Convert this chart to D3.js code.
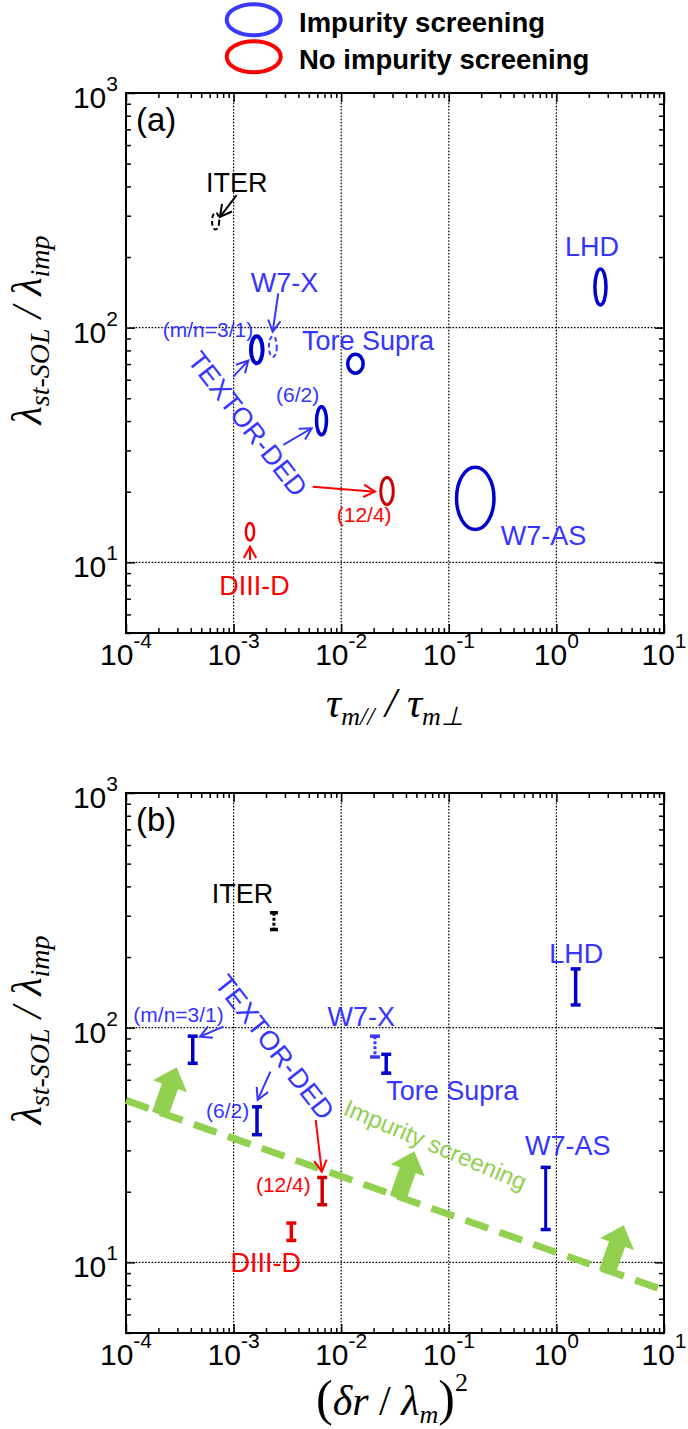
<!DOCTYPE html>
<html>
<head>
<meta charset="utf-8">
<script src="https://cdn.jsdelivr.net/npm/d3@7"></script>
<style>
  body { margin: 0; background: #fff; }
  svg { display: block; }
</style>
</head>
<body>
<svg id="fig" width="688" height="1429"></svg>
<script>
// ---- data ---------------------------------------------------------------
const devices = ["ITER", "W7-X", "TEXTOR-DED 3/1", "Tore Supra", "TEXTOR-DED 6/2",
                 "TEXTOR-DED 12/4", "DIII-D", "W7-AS", "LHD"];
// λ_st-SOL / λ_imp range, same quantity on both vertical axes
const ratioLow  = [262, 75, 70.5, 64, 35, 17.6, 12.4, 13.8, 125];
const ratioHigh = [309, 92, 92,   77, 46, 23,   14.7, 25.4, 178];
// τ_m// / τ_m⊥ range, panel (a)
const tauLow  = [6.3e-4, 2.13e-3, 1.45e-3, 0.0115, 5.9e-3, 0.0233, 1.30e-3, 0.118, 2.28];
const tauHigh = [7.35e-4, 2.52e-3, 1.86e-3, 0.0160, 7.3e-3, 0.0305, 1.55e-3, 0.263, 2.89];
// (δr / λm)^2, panel (b)
const islandRatio = [2.37e-3, 0.0206, 4.17e-4, 0.0262, 1.65e-3, 6.66e-3, 3.44e-3, 0.795, 1.51];
// screening class of each case
const screening = ["predicted", "predicted", "yes", "yes", "yes", "no", "no", "yes", "yes"];
// screening boundary in panel (b)
const boundaryX = [1e-4, 10];
const boundaryY = [49, 7.6];
const boundaryArrowX = [2.1e-4, 3.4e-2, 3.0];
// axes
const xDecades = [1e-4, 1e-3, 1e-2, 1e-1, 1, 10];
const xTickExp = ["-4", "-3", "-2", "-1", "0", "1"];
const yDecades = [10, 100, 1000];
const yTickExp = ["1", "2", "3"];
const legendLabels = ["Impurity screening", "No impurity screening"];

// ---- styles -------------------------------------------------------------
const SANS = "'Liberation Sans', Arial, Helvetica, sans-serif";
const SERIF = "'Liberation Serif', 'Times New Roman', serif";
const BLUE_TXT = "#3535ff", RED_TXT = "#ff0000";
const markStyle = {
  "ITER":            { stroke: "#000000", w: 2,   dash: "4.5,3", bw: 3 },
  "W7-X":            { stroke: "#3a3aff", w: 2,   dash: "4.5,3", bw: 3 },
  "TEXTOR-DED 3/1":  { stroke: "#0000cc", w: 4,   dash: null,    bw: 3.5 },
  "Tore Supra":      { stroke: "#0000cc", w: 3.5, dash: null,    bw: 3.5 },
  "TEXTOR-DED 6/2":  { stroke: "#0000cc", w: 3.5, dash: null,    bw: 3.5 },
  "TEXTOR-DED 12/4": { stroke: "#cc0000", w: 3,   dash: null,    bw: 3.5 },
  "DIII-D":          { stroke: "#ee0000", w: 2.5, dash: null,    bw: 3.5 },
  "W7-AS":           { stroke: "#0000cc", w: 3.5, dash: null,    bw: 3 },
  "LHD":             { stroke: "#0000cc", w: 3.5, dash: null,    bw: 3.5 }
};

const svg = d3.select("#fig");

// ---- helpers ------------------------------------------------------------
function addText(g, x, y, str, o = {}) {
  const t = g.append("text")
    .attr("x", x).attr("y", y)
    .attr("font-family", o.family || SANS)
    .attr("font-size", o.size || 27)
    .attr("fill", o.fill || "#000")
    .attr("text-anchor", o.anchor || "start");
  if (o.weight) t.attr("font-weight", o.weight);
  if (o.dy) t.attr("dy", o.dy);
  if (o.rotate) t.attr("transform", `rotate(${o.rotate},${x},${y})`);
  t.text(str);
  return t;
}

function addArrow(g, x1, y1, x2, y2, color) {
  g.append("line")
    .attr("x1", x1).attr("y1", y1).attr("x2", x2).attr("y2", y2)
    .attr("stroke", color).attr("stroke-width", 2);
  const a = Math.atan2(y2 - y1, x2 - x1), L = 13, s = 0.5;
  const p = d3.path();
  p.moveTo(x2 - L * Math.cos(a - s), y2 - L * Math.sin(a - s));
  p.lineTo(x2, y2);
  p.lineTo(x2 - L * Math.cos(a + s), y2 - L * Math.sin(a + s));
  g.append("path").attr("d", p.toString())
    .attr("fill", "none").attr("stroke", color).attr("stroke-width", 2)
    .attr("stroke-linejoin", "miter");
}

function powerLabel(g, x, y, exp, anchor) {
  const t = g.append("text")
    .attr("x", x).attr("y", y)
    .attr("font-family", SANS).attr("font-size", 30)
    .attr("text-anchor", anchor).attr("fill", "#000");
  t.append("tspan").text("10");
  t.append("tspan").attr("font-size", 21).attr("dy", -17).text(exp);
}

function minors(starts, ks) {
  const out = [];
  starts.forEach(d => ks.forEach(k => out.push(k * d)));
  return out;
}

// ---- one log-log panel --------------------------------------------------
function makePanel(top, tag) {
  const x = d3.scaleLog().domain([1e-4, 10]).range([126, 664]);
  const y = d3.scaleLog().domain([5, 1000]).range([top + 540, top]);
  const [x0, x1] = x.range();
  const [y1, y0] = y.range();
  const g = svg.append("g");

  // dotted decade grid
  g.selectAll(null).data(xDecades.slice(1, -1)).join("line")
    .attr("x1", d => x(d)).attr("x2", d => x(d)).attr("y1", y0).attr("y2", y1)
    .attr("stroke", "#000").attr("stroke-width", 1.2).attr("stroke-dasharray", "1.6,1.6");
  g.selectAll(null).data(yDecades.slice(0, -1)).join("line")
    .attr("y1", d => y(d)).attr("y2", d => y(d)).attr("x1", x0).attr("x2", x1)
    .attr("stroke", "#000").attr("stroke-width", 1.2).attr("stroke-dasharray", "1.6,1.6");

  // inward ticks on all four sides
  const xMinor = minors(xDecades.slice(0, -1), [2, 3, 4, 5, 6, 7, 8, 9]);
  const yMinor = [5, 6, 7, 8, 9].concat(minors([10, 100], [2, 3, 4, 5, 6, 7, 8, 9]));
  const sides = [
    [d3.axisBottom(x), `translate(0,${y1})`, xDecades, xMinor],
    [d3.axisTop(x), `translate(0,${y0})`, xDecades, xMinor],
    [d3.axisLeft(y), `translate(${x0},0)`, yDecades, yMinor],
    [d3.axisRight(y), `translate(${x1},0)`, yDecades, yMinor]
  ];
  sides.forEach(([ax, tr, major, minor]) => {
    [[major, -9], [minor, -5]].forEach(([vals, size]) => {
      const a = g.append("g").attr("transform", tr)
        .call(ax.tickValues(vals).tickSize(size).tickSizeOuter(0).tickFormat(() => ""));
      a.select(".domain").remove();
      a.selectAll(".tick line").attr("stroke", "#000").attr("stroke-width", 1.5);
    });
  });

  // frame
  g.append("rect").attr("x", x0).attr("y", y0).attr("width", x1 - x0).attr("height", y1 - y0)
    .attr("fill", "none").attr("stroke", "#000").attr("stroke-width", 2);

  // tick labels
  xDecades.forEach((d, i) => powerLabel(g, x(d), y1 + 32, xTickExp[i], "middle"));
  yDecades.forEach((d, i) => powerLabel(g, x0 - 8, y(d) + 15, yTickExp[i], "end"));

  // panel tag
  addText(g, 136, top + 38, tag, { size: 33 });

  // vertical axis title
  const yt = g.append("text")
    .attr("transform", `translate(41,${top + 237}) rotate(-90)`)
    .attr("text-anchor", "middle").attr("font-family", SERIF)
    .attr("font-style", "italic").attr("font-size", 42).attr("fill", "#000");
  yt.append("tspan").text("λ");
  yt.append("tspan").attr("font-size", 28).attr("dy", 8).text("st-SOL");
  yt.append("tspan").attr("dy", -8).text(" / λ");
  yt.append("tspan").attr("font-size", 28).attr("dy", 8).text("imp");

  return { g, x, y };
}

// ---- legend -------------------------------------------------------------
const leg = svg.append("g");
[["#3a3aff", 19.8], ["#ff0000", 56.7]].forEach(([c, cy], i) => {
  leg.append("ellipse").attr("cx", 253.7).attr("cy", cy).attr("rx", 27).attr("ry", 15.5)
    .attr("fill", "none").attr("stroke", c).attr("stroke-width", 4);
  addText(leg, 299, cy + 12.2, legendLabels[i], { size: 27.5, weight: "bold" });
});

// ---- panel (a) ----------------------------------------------------------
const A = makePanel(93, "(a)");
const centersA = devices.map((name, i) => {
  const st = markStyle[name];
  const cx = A.x(Math.sqrt(tauLow[i] * tauHigh[i]));
  const cy = A.y(Math.sqrt(ratioLow[i] * ratioHigh[i]));
  A.g.append("ellipse")
    .attr("cx", cx).attr("cy", cy)
    .attr("rx", (A.x(tauHigh[i]) - A.x(tauLow[i])) / 2)
    .attr("ry", (A.y(ratioLow[i]) - A.y(ratioHigh[i])) / 2)
    .attr("fill", "none").attr("stroke", st.stroke).attr("stroke-width", st.w)
    .attr("stroke-dasharray", st.dash);
  return [cx, cy];
});

// labels and arrows, offsets from each mark centre
const notesA = [
  { i: 0, text: "ITER",       dx: -9.6,  dy: -29,  fill: "#000",   arrow: [21, -26, 4.4, -4.3] },
  { i: 1, text: "W7-X",       dx: -22,   dy: -55,  fill: BLUE_TXT, arrow: [5.4, -53.3, -0.2, -14.9] },
  { i: 2, text: "(m/n=3/1)",  dx: -94,   dy: -13,  fill: BLUE_TXT, size: 21, arrow: [-23.5, 26.9, -8.5, 10.9] },
  { i: 3, text: "Tore Supra", dx: -53.5, dy: -14,  fill: BLUE_TXT },
  { i: 4, text: "(6/2)",      dx: -45.5, dy: -19,  fill: BLUE_TXT, size: 21, arrow: [-38.2, 24.2, -9.8, 7.5] },
  { i: 5, text: "(12/4)",     dx: -50.3, dy: 31,   fill: RED_TXT,  size: 21, arrow: [-74.3, -4.4, -12, 0.6] },
  { i: 6, text: "DIII-D",     dx: -30.7, dy: 63,   fill: RED_TXT,  arrow: [0, 28.2, 0, 14.9] },
  { i: 7, text: "W7-AS",      dx: 25.4,  dy: 46.5, fill: BLUE_TXT },
  { i: 8, text: "LHD",        dx: -35.5, dy: -31,  fill: BLUE_TXT }
];
notesA.forEach(n => {
  const [cx, cy] = centersA[n.i];
  addText(A.g, cx + n.dx, cy + n.dy, n.text, { fill: n.fill, size: n.size || 27 });
  if (n.arrow) {
    addArrow(A.g, cx + n.arrow[0], cy + n.arrow[1], cx + n.arrow[2], cy + n.arrow[3], n.fill);
  }
});
{
  const [cx, cy] = centersA[4];
  addText(A.g, cx - 73.5, cy + 3, "TEXTOR-DED",
    { fill: BLUE_TXT, size: 27, anchor: "middle", dy: "0.36em", rotate: 52 });
}

// x title (a)
{
  const t = A.g.append("text").attr("x", 395).attr("y", 717)
    .attr("text-anchor", "middle").attr("font-family", SERIF)
    .attr("font-style", "italic").attr("font-size", 42).attr("fill", "#000");
  t.append("tspan").text("τ");
  t.append("tspan").attr("font-size", 26).attr("dy", 8).text("m//");
  t.append("tspan").attr("dy", -8).text(" / τ");
  t.append("tspan").attr("font-size", 26).attr("dy", 8).text("m⊥");
}

// ---- panel (b) ----------------------------------------------------------
const B = makePanel(793, "(b)");

// screening boundary with arrows pointing to the screened side
{
  const bx0 = B.x(boundaryX[0]), by0 = B.y(boundaryY[0]);
  const bx1 = B.x(boundaryX[1]), by1 = B.y(boundaryY[1]);
  const green = "#92d050";
  B.g.append("line").attr("x1", bx0).attr("y1", by0).attr("x2", bx1).attr("y2", by1)
    .attr("stroke", green).attr("stroke-width", 7).attr("stroke-dasharray", "24,12");
  const ang = Math.atan2(by1 - by0, bx1 - bx0) * 180 / Math.PI;
  const slope = Math.log10(boundaryY[1] / boundaryY[0]) / Math.log10(boundaryX[1] / boundaryX[0]);
  const shape = [[-8.5, 2], [-8.5, -28], [-18, -28], [0, -48], [18, -28], [8.5, -28], [8.5, 2]];
  boundaryArrowX.forEach(v => {
    const yv = boundaryY[0] * Math.pow(v / boundaryX[0], slope);
    B.g.append("polygon")
      .attr("points", shape.map(p => p.join(",")).join(" "))
      .attr("transform", `translate(${B.x(v)},${B.y(yv)}) rotate(${ang})`)
      .attr("fill", green);
  });
  addText(B.g, 435.5, 1144.5, "Impurity screening",
    { fill: green, size: 24, anchor: "middle", dy: "0.36em", rotate: 23 });
}

const centersB = devices.map((name, i) => {
  const st = markStyle[name];
  const cx = B.x(islandRatio[i]);
  const yTop = B.y(ratioHigh[i]), yBot = B.y(ratioLow[i]);
  const cap = name === "ITER" ? 4 : 5;
  B.g.append("line").attr("x1", cx).attr("x2", cx).attr("y1", yTop).attr("y2", yBot)
    .attr("stroke", st.stroke).attr("stroke-width", st.bw)
    .attr("stroke-dasharray", st.dash ? "3,2" : null);
  [yTop, yBot].forEach(yy => B.g.append("line")
    .attr("x1", cx - cap).attr("x2", cx + cap).attr("y1", yy).attr("y2", yy)
    .attr("stroke", st.stroke).attr("stroke-width", 3.5));
  return [cx, B.y(Math.sqrt(ratioLow[i] * ratioHigh[i]))];
});

const notesB = [
  { i: 0, text: "ITER",       dx: -62.2, dy: -17.7, fill: "#000" },
  { i: 1, text: "W7-X",       dx: -47.5, dy: -20.3, fill: BLUE_TXT },
  { i: 2, text: "(m/n=3/1)",  dx: -59.4, dy: -27.8, fill: BLUE_TXT, size: 21, arrow: [30.6, -23.1, 7.3, -13.1] },
  { i: 3, text: "Tore Supra", dx: 0.1,   dy: 36.2,  fill: BLUE_TXT },
  { i: 4, text: "(6/2)",      dx: -51,   dy: -2.8,  fill: BLUE_TXT, size: 21, arrow: [13.4, -49.1, 0.7, -20.8] },
  { i: 5, text: "(12/4)",     dx: -66.3, dy: 0.6,   fill: RED_TXT,  size: 21, arrow: [-6.5, -71.1, -0.4, -19.4] },
  { i: 6, text: "DIII-D",     dx: -60.8, dy: 39.9,  fill: RED_TXT },
  { i: 7, text: "W7-AS",      dx: -20.7, dy: -43.5, fill: BLUE_TXT },
  { i: 8, text: "LHD",        dx: -26.4, dy: -24.3, fill: BLUE_TXT }
];
notesB.forEach(n => {
  const [cx, cy] = centersB[n.i];
  addText(B.g, cx + n.dx, cy + n.dy, n.text, { fill: n.fill, size: n.size || 27 });
  if (n.arrow) addArrow(B.g, cx + n.arrow[0], cy + n.arrow[1], cx + n.arrow[2], cy + n.arrow[3], n.fill);
});
{
  const [cx, cy] = centersB[4];
  addText(B.g, cx + 18, cy - 73.8, "TEXTOR-DED",
    { fill: BLUE_TXT, size: 27, anchor: "middle", dy: "0.36em", rotate: 52 });
}

// x title (b)
{
  const t = B.g.append("text").attr("x", 392).attr("y", 1415)
    .attr("text-anchor", "middle").attr("font-family", SERIF)
    .attr("font-size", 42).attr("fill", "#000");
  t.append("tspan").attr("font-size", 50).text("(");
  t.append("tspan").attr("font-style", "italic").text("δr");
  t.append("tspan").text(" / ");
  t.append("tspan").attr("font-style", "italic").text("λ");
  t.append("tspan").attr("font-style", "italic").attr("font-size", 26).attr("dy", 8).text("m");
  t.append("tspan").attr("font-size", 50).attr("dy", -8).text(")");
  t.append("tspan").attr("font-size", 26).attr("dy", -24).text("2");
}
</script>
</body>
</html>
